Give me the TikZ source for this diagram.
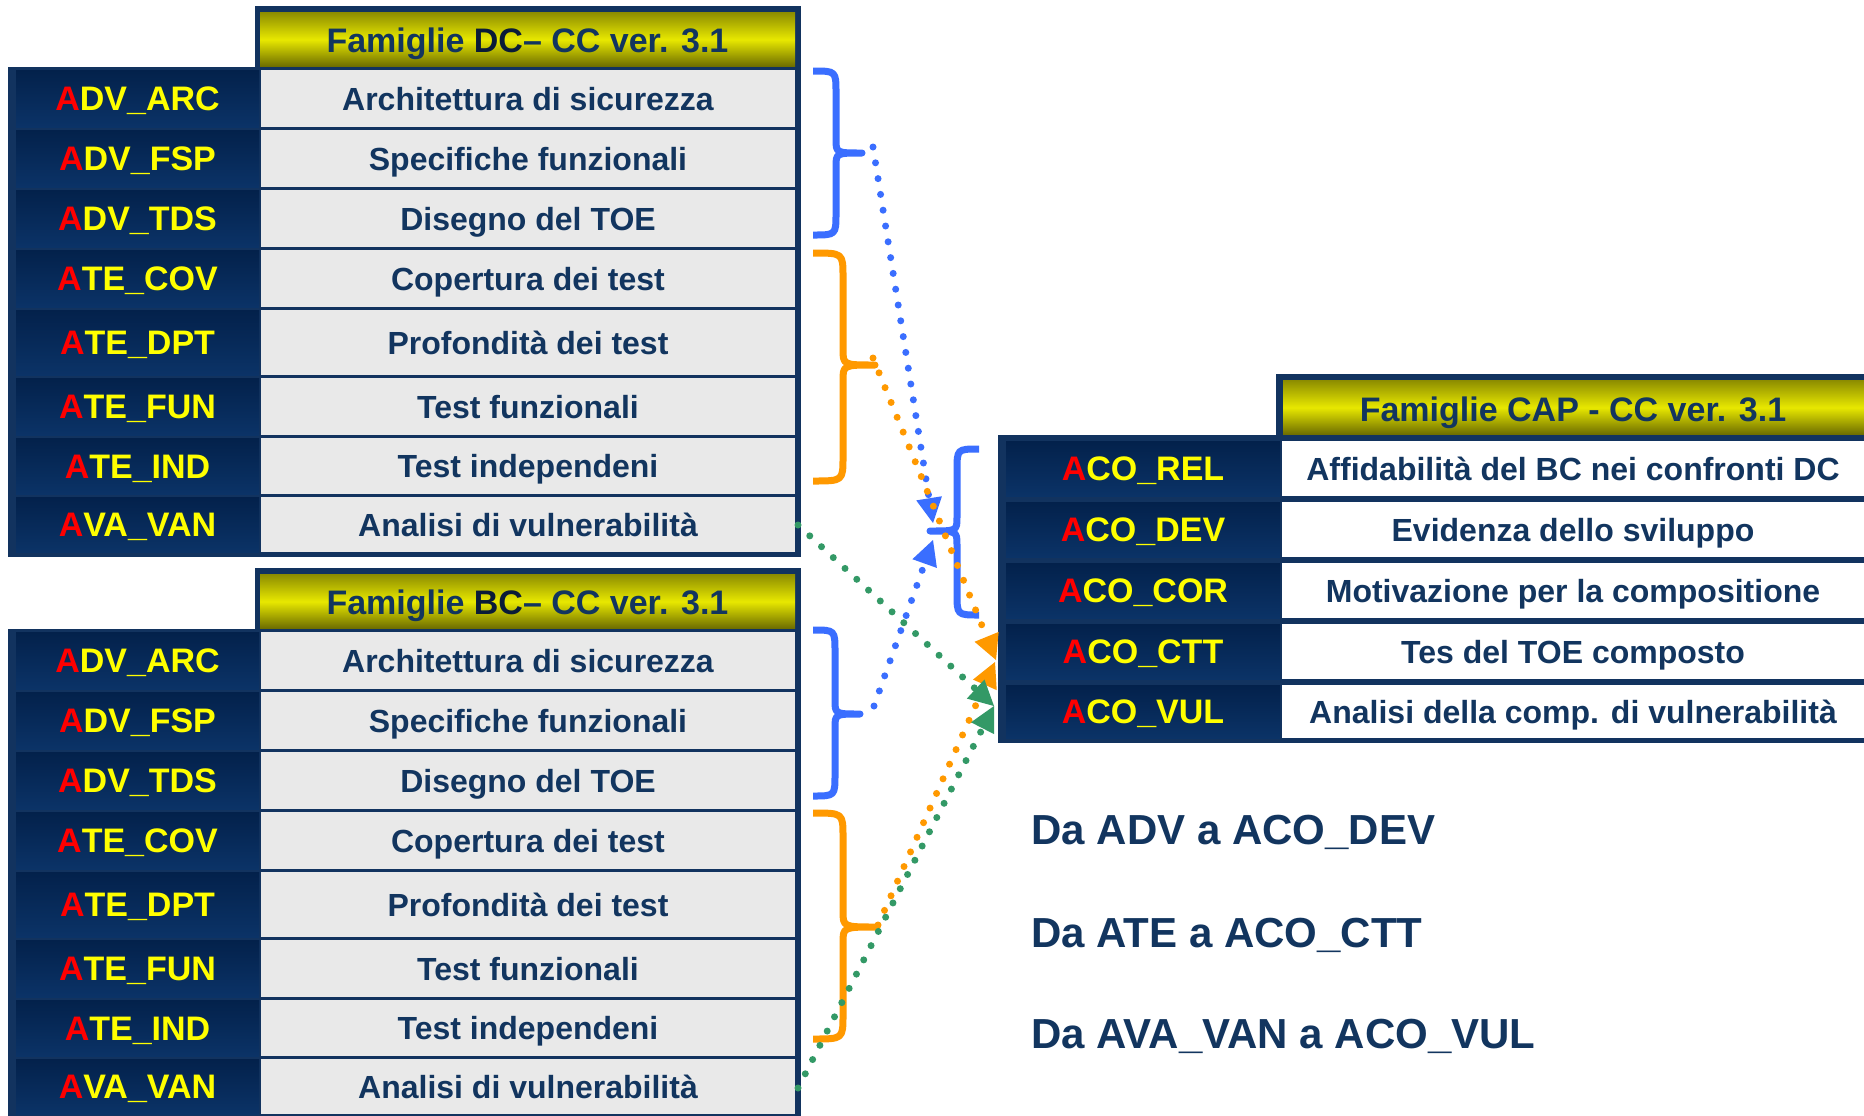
\documentclass[tikz,border=0pt]{standalone}
\usepackage{fontspec}
\setmainfont{Liberation Sans}
\usetikzlibrary{arrows.meta}

\definecolor{frameblue}{HTML}{12335F}
\definecolor{cellTop}{HTML}{03214B}
\definecolor{cellBot}{HTML}{0B3367}
\definecolor{navytext}{HTML}{12355F}
\definecolor{dcdark}{HTML}{0A1B38}
\definecolor{graycell}{HTML}{E9E9E9}
\definecolor{labyellow}{HTML}{FFFF00}
\definecolor{labred}{HTML}{FF0000}
\definecolor{yTop}{HTML}{8C8C00}
\definecolor{yMid}{HTML}{E8E800}
\definecolor{yBot}{HTML}{6A6A00}
\definecolor{bblue}{HTML}{3A6EFF}
\definecolor{borange}{HTML}{FF9900}
\definecolor{bgreen}{HTML}{339966}

% DC / BC family table: #1 name prefix, #2 vertical offset, #3 heading
\newcommand\famtable[3]{%
  \fill[frameblue] (255,6+#2) rectangle (801,70+#2);
  \shade[top color=yTop, bottom color=yBot, middle color=yMid] (260,12+#2) rectangle (795,67+#2);
  \node[headtext] (#1-head) at (527.5,52+#2) {#3};
  \fill[frameblue] (8,67+#2) rectangle (801,557+#2);
  \foreach \rt/\rb/\rl/\rd [count=\i] in {
      70/127/DV\_ARC/Architettura di sicurezza,
      130/187/DV\_FSP/Specifiche funzionali,
      190/247/DV\_TDS/Disegno del TOE,
      250/307/TE\_COV/Copertura dei test,
      310/375/TE\_DPT/Profondità dei test,
      378/435/TE\_FUN/Test funzionali,
      438/494/TE\_IND/Test independeni,
      497/552/VA\_VAN/Analisi di vulnerabilità}{
    \shade[top color=cellTop, bottom color=cellBot] (16,\rt+#2) rectangle (259,\rb+#2);
    \fill[graycell] (261,\rt+#2) rectangle (795,\rb+#2);
    \node[labtext] (#1-l\i) at (137.5,{(\rt+\rb)/2+12.2+#2}) {\textcolor{labred}{A}\rl};
    \node[desctext] (#1-d\i) at (528,{(\rt+\rb)/2+11.5+#2}) {\rd};
  }%
}

% curly brace: #1 colour, #2 end x, #3 stem x, #4 tip x, #5 top y, #6 tip y, #7 bottom y,
% #8 end curve height, #9 middle curve height
\newcommand\cbrace[9]{%
  \draw[bracestroke, #1] (#2,#5) .. controls (#3,#5) .. (#3,#5+#8) -- (#3,#6-#9)
    .. controls (#3,#6) .. (#4,#6) .. controls (#3,#6) .. (#3,#6+#9) -- (#3,#7-#8)
    .. controls (#3,#7) .. (#2,#7);
}

\begin{document}
\begin{tikzpicture}[x=0.5pt,y=-0.5pt,
  labtext/.style={anchor=base, text=labyellow, inner sep=0pt,
    font=\fontsize{17}{20}\selectfont\bfseries},
  desctext/.style={anchor=base, text=navytext, inner sep=0pt,
    font=\fontsize{16}{19}\selectfont\bfseries},
  headtext/.style={anchor=base, text=navytext, inner sep=0pt,
    font=\fontsize{17}{20}\selectfont\bfseries},
  notetext/.style={anchor=base west, text=navytext, inner sep=0pt,
    font=\fontsize{21}{25}\selectfont\bfseries},
  bracestroke/.style={line width=3.5pt, line join=round},
  dotlink/.style={line width=3.5pt, line cap=round, dash pattern=on 0pt off 8pt,
    -{Triangle[length=12.5pt,width=13pt,line width=0pt]}},
]
\clip (0,0) rectangle (1864,1115);
\fill[white] (0,0) rectangle (1864,1115);

% the two source tables
\famtable{dc}{0}{Famiglie \textcolor{dcdark}{DC}– CC ver. 3.1}
\famtable{bc}{562}{Famiglie \textcolor{dcdark}{BC}– CC ver. 3.1}

% composition table
\fill[frameblue] (1276,374) rectangle (1870,441);
\shade[top color=yTop, bottom color=yBot, middle color=yMid] (1283,380) rectangle (1870,435);
\node[headtext] (cap-head) at (1573,421) {Famiglie CAP - CC ver. 3.1};
\fill[frameblue] (998,435) rectangle (1870,743);
\foreach \rt/\rb/\rl/\rd [count=\i] in {
    441/496/CO\_REL/Affidabilità del BC nei confronti DC,
    502/557/CO\_DEV/Evidenza dello sviluppo,
    563/618/CO\_COR/Motivazione per la compositione,
    624/679/CO\_CTT/Tes del TOE composto,
    685/738/CO\_VUL/Analisi della comp. di vulnerabilità}{
  \shade[top color=cellTop, bottom color=cellBot] (1006,\rt) rectangle (1280,\rb);
  \fill[white] (1282,\rt) rectangle (1870,\rb);
  \node[labtext] (cap-l\i) at (1143,{(\rt+\rb)/2+12.2}) {\textcolor{labred}{A}\rl};
  \node[desctext] (cap-d\i) at (1573,{(\rt+\rb)/2+11.5}) {\rd};
}

% braces grouping the families
\cbrace{bblue}{813}{836}{862}{71}{153}{235}{22}{14}
\cbrace{borange}{813}{843}{875}{253}{365}{481}{24}{16}
\cbrace{bblue}{813}{835}{860}{630}{714}{796}{22}{14}
\cbrace{borange}{813}{843}{877}{813}{927}{1039}{24}{16}
\cbrace{bblue}{979}{957}{930}{449}{531}{615}{22}{14}

% link end points
\coordinate (dcAdv) at (873,147);
\coordinate (dcAte) at (873,358);
\coordinate (dcAva) at (798,525);
\coordinate (bcAdv) at (874,706);
\coordinate (bcAte) at (878,925);
\coordinate (bcAva) at (798,1088);
\coordinate (devIn1) at (933,523);
\coordinate (devIn2) at (933,540);
\coordinate (cttIn1) at (996,660);
\coordinate (cttIn2) at (995,662);
\coordinate (vulIn) at (994,706);

% dotted links
\draw[dotlink, bblue] (dcAdv) -- (devIn1);
\draw[dotlink, bblue] (bcAdv) -- (devIn2);
\draw[dotlink, borange] (dcAte) -- (cttIn1);
\draw[dotlink, borange] (bcAte) -- (cttIn2);
\draw[dotlink, bgreen] (dcAva) -- (vulIn);
\draw[dotlink, bgreen] (bcAva) -- (vulIn);

% mapping notes
\node[notetext] (note1) at (1031,844) {Da ADV a ACO\_DEV};
\node[notetext] (note2) at (1031,947) {Da ATE a ACO\_CTT};
\node[notetext] (note3) at (1031,1048) {Da AVA\_VAN a ACO\_VUL};
\end{tikzpicture}
\end{document}
